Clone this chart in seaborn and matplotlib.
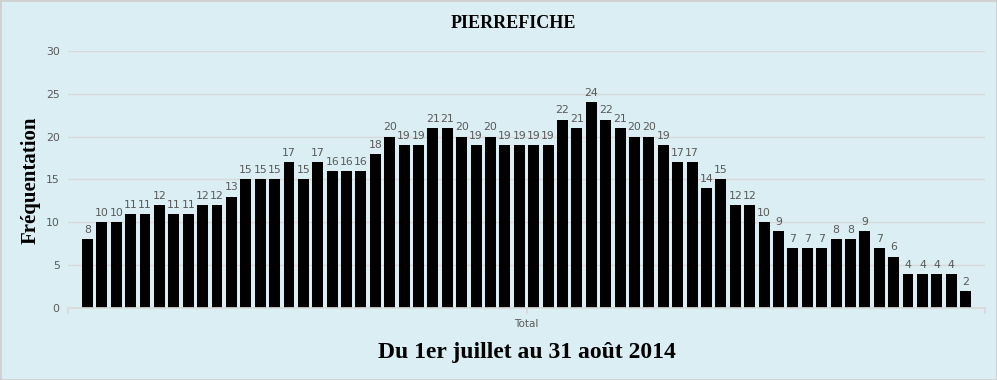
import numpy as np
import pandas as pd
import seaborn as sns
import matplotlib.pyplot as plt
from matplotlib.patches import Rectangle

# daily attendance, 1 July -> 31 August 2014
frequentation = [8, 10, 10, 11, 11, 12, 11, 11, 12, 12, 13, 15, 15, 15, 17, 15,
                 17, 16, 16, 16, 18, 20, 19, 19, 21, 21, 20, 19, 20, 19, 19, 19,
                 19, 22, 21, 24, 22, 21, 20, 20, 19, 17, 17, 14, 15, 12, 12, 10,
                 9, 7, 7, 7, 8, 8, 9, 7, 6, 4, 4, 4, 4, 2]
jours = list(range(1, len(frequentation) + 1))
y_ticks = [0, 5, 10, 15, 20, 25, 30]
category = "Total"

BG = "#DAEEF3"
GREY_TXT = "#595959"

sns.set_theme(style="white")
fig = plt.figure(figsize=(9.97, 3.8), dpi=100, facecolor=BG)
ax = fig.add_axes([0.0682, 0.1895, 0.9198, 0.6763])
ax.set_facecolor(BG)

df = pd.DataFrame({"jour": jours, "freq": frequentation})
sns.barplot(data=df, x="jour", y="freq", color="black", width=0.76,
            saturation=1, ax=ax)
for p in ax.patches:
    p.set_edgecolor("none")

ax.bar_label(ax.containers[0], labels=[str(v) for v in frequentation],
             padding=3, fontsize=7.8, color=GREY_TXT)

ax.set_ylim(0, 30)
ax.set_yticks(y_ticks)
ax.yaxis.grid(True, color="#D9D9D9", linewidth=1)
ax.set_axisbelow(True)
ax.tick_params(axis="y", length=0, labelsize=7.8, labelcolor=GREY_TXT, pad=6)

n = len(frequentation)
margin = 0.85
ax.set_xlim(-0.5 - margin, n - 0.5 + margin)
ax.set_xticks([-0.5 - margin, (n - 1) / 2, n - 0.5 + margin])
ax.set_xticklabels(["", category, ""])
ax.tick_params(axis="x", length=4, color="#D9D9D9", labelsize=7.5,
               labelcolor=GREY_TXT, pad=4, bottom=True)

for side in ["top", "right", "left"]:
    ax.spines[side].set_visible(False)
ax.spines["bottom"].set_color("#D9D9D9")

ax.set_ylabel("")
fig.text(0.031, 0.526, "Fréquentation", family="Liberation Serif",
         fontweight="bold", fontsize=15, color="black", rotation=90,
         ha="center", va="center")
ax.set_xlabel("Du 1er juillet au 31 août 2014", family="Liberation Serif",
              fontweight="bold", fontsize=17, color="black", labelpad=9)
fig.text(0.515, 0.937, "PIERREFICHE", family="Liberation Serif",
         fontweight="bold", fontsize=13, color="black", ha="center", va="center")

fig.patches.append(Rectangle((0, 0), 1, 1, transform=fig.transFigure,
                             fill=False, edgecolor="#D0D0D0", linewidth=2))

fig.savefig("out.png", dpi=100, facecolor=BG)
